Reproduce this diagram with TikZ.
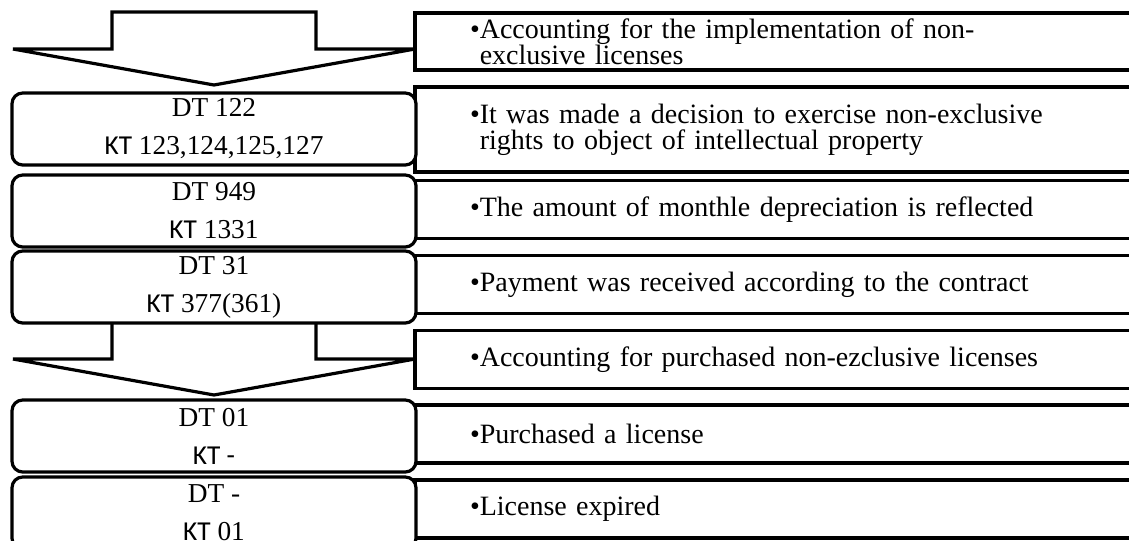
\documentclass[tikz,border=0pt]{standalone}
\usepackage{fontspec}
\setmainfont{Liberation Serif}
\newfontfamily\ktfont{Carlito}
\usetikzlibrary{positioning}
\tikzset{
    entryBox/.style={draw, fill=white, rounded corners=8pt, line width=2.4pt, minimum width=303pt, minimum height=54pt, inner sep=0pt, align=center, font={\fontsize{20.5pt}{28.5pt}\selectfont}},
    noteBox/.style={draw, fill=white, line width=2.4pt, minimum width=540pt, minimum height=43.5pt, text width=457.5pt, inner xsep=41.25pt, inner ysep=0pt, align=left, font={\fontsize{21pt}{19.5pt}\selectfont\lineskiplimit=-20pt}},
    flowArrow/.style={draw, fill=white, line width=2.4pt, line join=miter},
}
\newcommand{\drawFlowArrow}[2]{
    % block arrow: centre x, top y
    \draw[flowArrow] (#1-102,#2) -- (#1+102,#2) -- (#1+102,#2+37) -- (#1+201,#2+37)
        -- (#1,#2+73) -- (#1-201,#2+37) -- (#1-102,#2+37) -- cycle;
}

\begin{document}
\begin{tikzpicture}[x=0.75pt, y=-0.75pt]
    \useasboundingbox (0,0) rectangle (1129,540);

    \node[noteBox, minimum height=42.75pt] (note1) at (775,41.5) {\textbullet Accounting for the implementation of non-\\\phantom{\textbullet}exclusive licenses};
    \node[noteBox, minimum height=63.75pt] (note2) at (775,129.5) {\textbullet It was made a decision to exercise non-exclusive\\\phantom{\textbullet}rights to object of intellectual property};
    \node[noteBox] (note3) at (775,209.5) {\textbullet The amount of monthle depreciation is reflected};
    \node[noteBox] (note4) at (775,284.5) {\textbullet Payment was received according to the contract};
    \node[noteBox] (note5) at (775,359.5) {\textbullet Accounting for purchased non-ezclusive licenses};
    \node[noteBox] (note6) at (775,434) {\textbullet Purchased a license};
    \node[noteBox] (note7) at (775,509) {\textbullet License expired};

    \drawFlowArrow{214}{12}
    \drawFlowArrow{214}{322}

    \node[entryBox] (post1) at (214,129) {DT 122\\{\ktfont KT} 123,124,125,127};
    \node[entryBox] (post2) at (214,211) {DT 949\\{\ktfont KT} 1331};
    \node[entryBox] (post3) at (214,287) {DT 31\\{\ktfont KT} 377(361)};
    \node[entryBox] (post4) at (214,436) {DT 01\\{\ktfont KT -}};
    \node[entryBox] (post5) at (214,513) {DT -\\{\ktfont KT} 01};

\end{tikzpicture}
\end{document}
